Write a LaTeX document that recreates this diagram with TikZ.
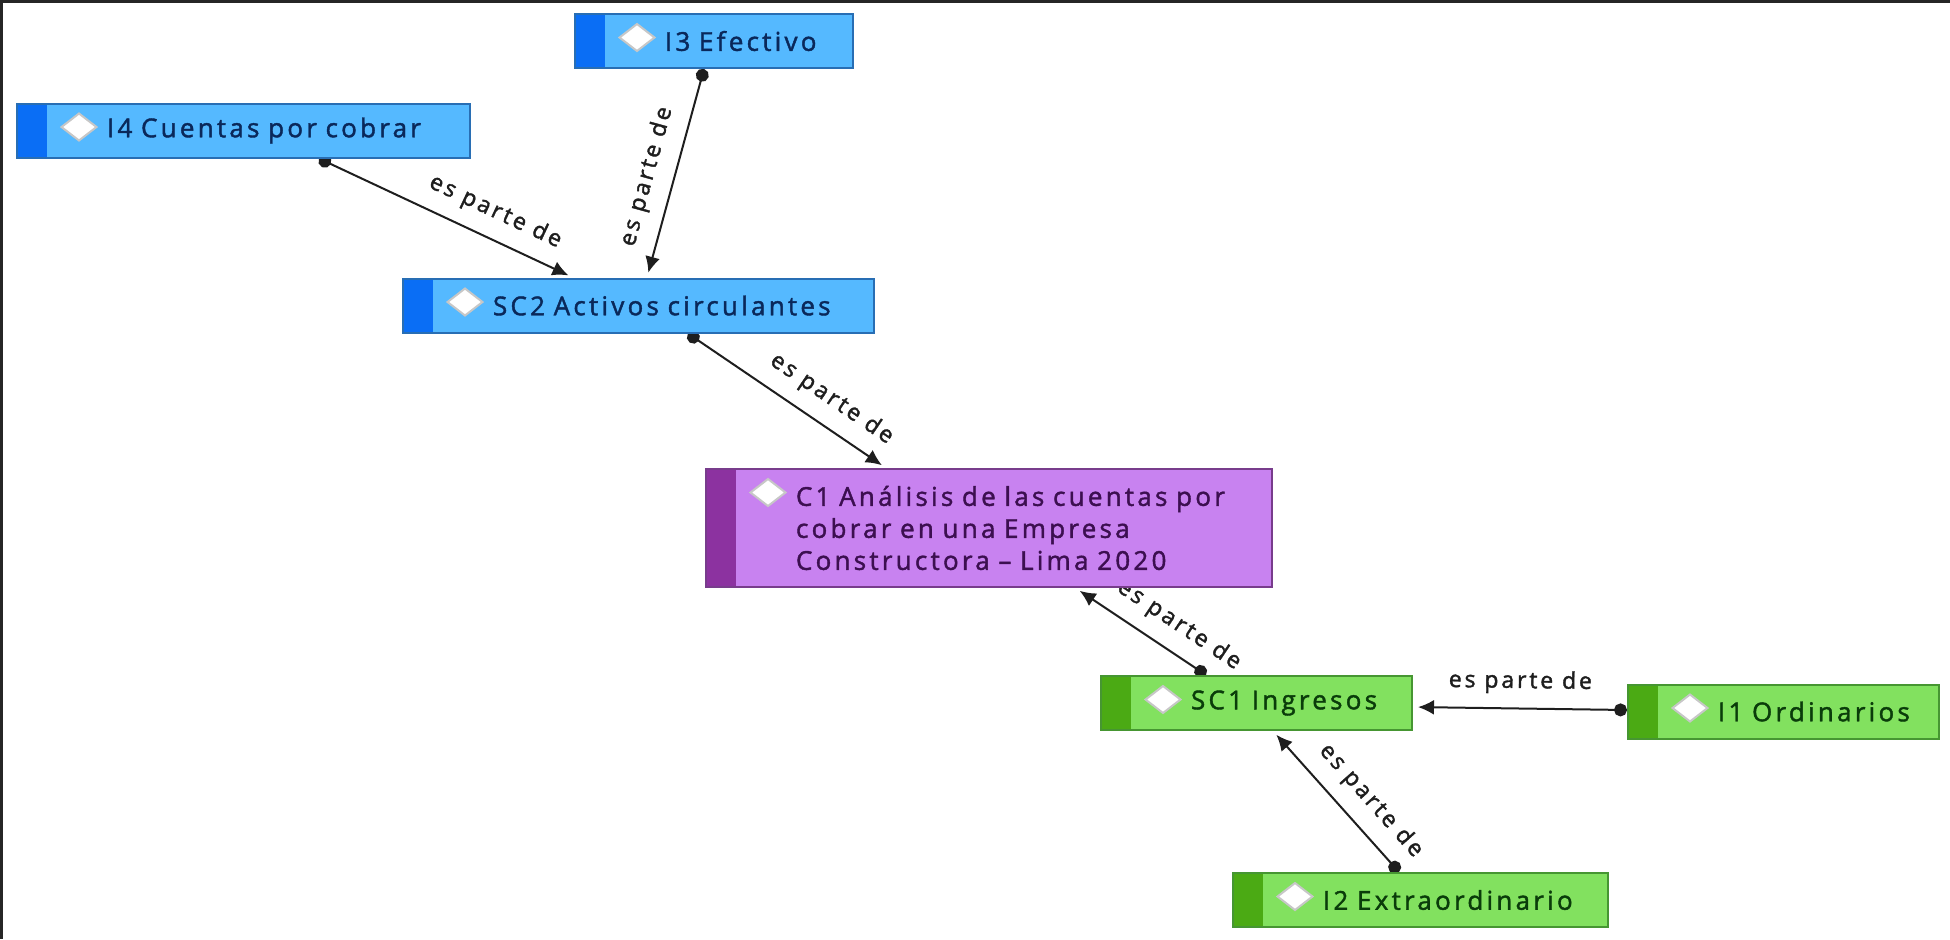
\documentclass[tikz,border=0pt]{standalone}
\usepackage{fontspec}
\setmainfont{Open Sans}[LetterSpace=12.5, FakeBold=1.6]
\usepackage{xcolor}
\usepackage{tikz}
\usetikzlibrary{arrows.meta,backgrounds}

\definecolor{bluefill}{HTML}{55B9FF}
\definecolor{bluedark}{HTML}{0A6EF5}
\definecolor{blueline}{HTML}{286EB4}
\definecolor{bluetext}{HTML}{0A285A}
\definecolor{purplefill}{HTML}{C882F0}
\definecolor{purpledark}{HTML}{8C32A0}
\definecolor{purpleline}{HTML}{783C8C}
\definecolor{purpletext}{HTML}{3C0F50}
\definecolor{greenfill}{HTML}{82E15F}
\definecolor{greendark}{HTML}{4BAA14}
\definecolor{greenline}{HTML}{469632}
\definecolor{greentext}{HTML}{0A3C0A}
\definecolor{linkgray}{HTML}{1E1E1E}

\begin{document}
\begin{tikzpicture}[x=0.5pt, y=-0.5pt,
    code/.style n args={4}{rectangle, draw=#3, fill=#1, text=#4, line width=1pt,
      inner xsep=15pt, inner ysep=0pt, minimum height=27pt, align=left,
      font=\fontsize{13}{16}\selectfont,
      execute at begin node={\leftskip=30pt},
      path picture={
        \fill[#2] (path picture bounding box.north west) rectangle
          ([xshift=15pt]path picture bounding box.south west);
        \filldraw[fill=white, draw=black!22, line width=1pt]
          ([shift={(22.25pt,-11.75pt)}]path picture bounding box.north west)
          -- ++(8.75pt,6.75pt) -- ++(8.75pt,-6.75pt) -- ++(-8.75pt,-6.75pt) -- cycle;
      }},
    bluecode/.style={code={bluefill}{bluedark}{blueline}{bluetext}},
    purplecode/.style={code={purplefill}{purpledark}{purpleline}{purpletext}},
    greencode/.style={code={greenfill}{greendark}{greenline}{greentext}},
    link/.style={{Circle[length=6.5pt]}-{Latex[length=8pt,width=7.5pt]},
      line width=1pt, draw=linkgray, shorten >=2.5pt},
    rel/.style={sloped, above, inner sep=7pt, text=linkgray,
      font=\fontsize{11.5}{13}\selectfont}
    ]
    \useasboundingbox (0,0) rectangle (1950,939);
    \draw[line width=1.5pt, black!85] (1,939) -- (1,1) -- (1950,1);

    \node[bluecode, text width=109pt] (i3) at (714,41) {I3~Efectivo};
    \node[bluecode, text width=196.5pt] (i4) at (243.5,130.5) {I4~Cuentas~por~cobrar};
    \node[bluecode, text width=205.5pt] (sc2) at (638.5,305.5) {SC2~Activos~circulantes};
    \node[purplecode, text width=253pt, minimum height=59pt] (c1) at (989,528)
      {C1 Análisis de las cuentas por\\cobrar en una Empresa\\Constructora – Lima 2020};
    \node[greencode, text width=125.5pt] (sc1) at (1256.5,703) {SC1~Ingresos};
    \node[greencode, text width=125.5pt] (i1) at (1783.5,711.5) {I1~Ordinarios};
    \node[greencode, text width=157.5pt] (i2) at (1420.5,900) {I2~Extraordinario};

    \begin{pgfonlayer}{background}
      \draw[link] ([xshift=-5pt]i3.south) -- node[rel, pos=0.55] {es parte de} ([xshift=4.25pt]sc2.north);
      \draw[link] ([xshift=37.75pt]i4.south) -- node[rel, pos=0.65] {es parte de} ([xshift=-32.75pt]sc2.north);
      \draw[link] ([xshift=24.75pt]sc2.south) -- node[rel, pos=0.65] {es parte de} ([xshift=-51.5pt]c1.north);
      \draw[link] ([xshift=-25.25pt]sc1.north) -- node[rel, pos=0.32] {es parte de} ([xshift=43.25pt]c1.south);
      \draw[link] ([yshift=0.75pt]i1.west) -- node[rel, pos=0.5] {es parte de} ([yshift=-2pt]sc1.east);
      \draw[link] ([xshift=-10.75pt]i2.north) -- node[rel, pos=0.38] {es parte de} ([xshift=8.25pt]sc1.south);
    \end{pgfonlayer}
  \end{tikzpicture}
\end{document}
